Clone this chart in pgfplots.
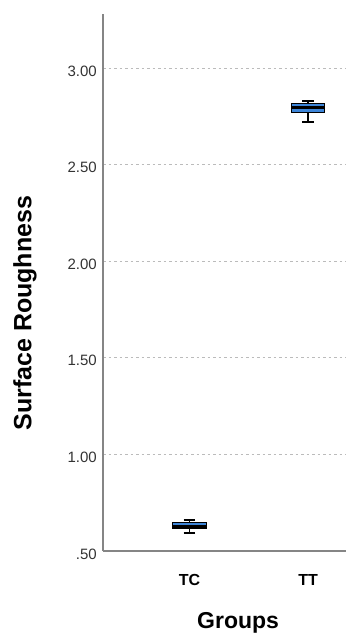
\documentclass[border=0pt]{standalone}
\usepackage{pgfplots}
\pgfplotsset{compat=1.18}
\usepgfplotslibrary{statistics}
\usepackage{fontspec}
\setmainfont{Liberation Sans}
\definecolor{axgray}{HTML}{858585}
\definecolor{gridgray}{HTML}{BBBBBB}
\definecolor{boxblue}{HTML}{3D85D8}
\definecolor{lblgray}{HTML}{333333}
\begin{document}
\begin{tikzpicture}
\begin{axis}[
  at={(103pt,82pt)}, anchor=south west,
  scale only axis, width=243pt, height=537pt,
  xmin=0.27, xmax=2.32, ymin=0.5, ymax=3.2795,
  axis x line*=bottom, axis y line*=left,
  axis line style={axgray, line width=1.5pt, -},
  major tick length=0pt,
  xtick={1,2}, xticklabels={TC,TT},
  ytick={0.5,1,1.5,2,2.5,3},
  yticklabels={.50,1.00,1.50,2.00,2.50,3.00},
  /pgf/number format/assume math mode=true,
  ymajorgrids,
  major grid style={gridgray, line width=0.9pt, dash pattern=on 2.5pt off 3pt},
  yticklabel style={font=\fontsize{15}{17}\selectfont, text=lblgray, anchor=east, inner sep=0pt, xshift=-6pt, yshift=-3pt},
  xticklabel style={font=\bfseries\fontsize{16}{18}\selectfont, text=black, anchor=base, inner sep=0pt, yshift=-34pt},
  xlabel={Groups}, ylabel={Surface Roughness},
  every axis x label/.style={at={(axis description cs:0.556,0)}, anchor=center, yshift=-72pt, font=\bfseries\fontsize{23}{26}\selectfont},
  every axis y label/.style={at={(axis description cs:-0.321,0.443)}, anchor=center, rotate=90, font=\bfseries\fontsize{25}{28}\selectfont},
  boxplot/draw direction=y,
  boxplot/box extend=0.28,
  boxplot/whisker extend=0.1,
]
\addplot+[solid, draw=black, fill=boxblue, line width=1.4pt, mark=none,
  boxplot prepared={draw position=1, lower whisker=0.593, lower quartile=0.614, median=0.629, upper quartile=0.645, upper whisker=0.660},
  boxplot/every box/.style={line width=1pt},
  boxplot/every median/.style={line width=3pt, draw=black}]
  coordinates {};
\addplot+[solid, draw=black, fill=boxblue, line width=1.4pt, mark=none,
  boxplot prepared={draw position=2, lower whisker=2.720, lower quartile=2.772, median=2.793, upper quartile=2.814, upper whisker=2.829},
  boxplot/every box/.style={line width=1pt},
  boxplot/every median/.style={line width=3pt, draw=black}]
  coordinates {};
\end{axis}
\pgfresetboundingbox
\path[use as bounding box] (0,0) rectangle (346pt,633pt);
\end{tikzpicture}
\end{document}
